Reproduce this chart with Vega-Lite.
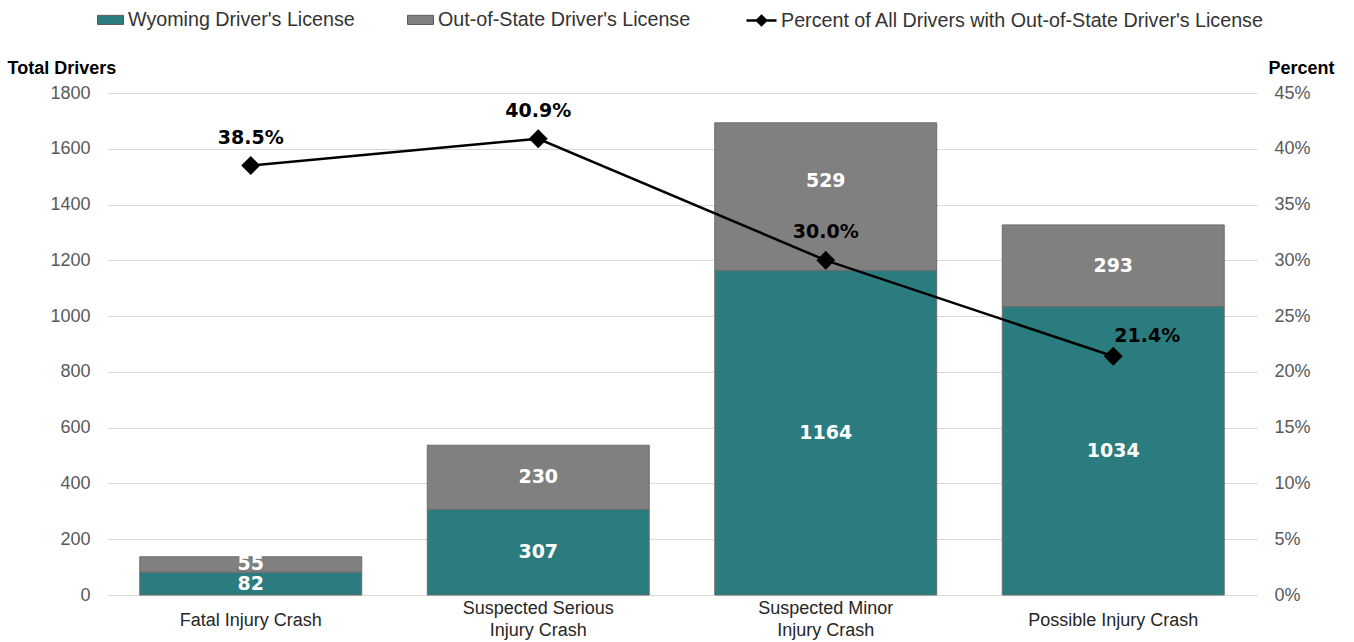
{
  "$schema": "https://vega.github.io/schema/vega-lite/v6.json",
  "width": 1150,
  "height": 502,
  "autosize": {"type": "none"},
  "padding": {"left": 107, "top": 93, "right": 97, "bottom": 47},
  "background": "white",
  "config": {
    "view": {"stroke": null},
    "font": "Liberation Sans"
  },
  "datasets": {
    "bars": [
      {"cat": "Fatal Injury Crash", "type": "Wyoming Driver's License", "value": 82},
      {"cat": "Fatal Injury Crash", "type": "Out-of-State Driver's License", "value": 55},
      {"cat": "Suspected Serious Injury Crash", "type": "Wyoming Driver's License", "value": 307},
      {"cat": "Suspected Serious Injury Crash", "type": "Out-of-State Driver's License", "value": 230},
      {"cat": "Suspected Minor Injury Crash", "type": "Wyoming Driver's License", "value": 1164},
      {"cat": "Suspected Minor Injury Crash", "type": "Out-of-State Driver's License", "value": 529},
      {"cat": "Possible Injury Crash", "type": "Wyoming Driver's License", "value": 1034},
      {"cat": "Possible Injury Crash", "type": "Out-of-State Driver's License", "value": 293}
    ],
    "pct": [
      {"cat": "Fatal Injury Crash", "pct": 0.385},
      {"cat": "Suspected Serious Injury Crash", "pct": 0.409},
      {"cat": "Suspected Minor Injury Crash", "pct": 0.300},
      {"cat": "Possible Injury Crash", "pct": 0.214}
    ]
  },
  "encoding": {
    "x": {
      "field": "cat",
      "type": "nominal",
      "sort": null,
      "scale": {"paddingInner": 0.228, "paddingOuter": 0.114},
      "axis": {
        "title": null,
        "labelAngle": 0,
        "domain": false,
        "ticks": false,
        "tickSize": 0,
        "labelPadding": {"condition": {"test": "indexof(datum.value, 'Suspected') == 0", "value": 13}, "value": 25},
        "labelBaseline": "middle",
        "labelFont": "Liberation Sans",
        "labelFontSize": 18,
        "labelColor": "#262626",
        "labelLineHeight": 22,
        "labelExpr": "indexof(datum.label, 'Suspected') == 0 ? [replace(datum.label, ' Injury Crash', ''), 'Injury Crash'] : datum.label"
      }
    }
  },
  "layer": [
    {
      "data": {"name": "bars"},
      "transform": [
        {"stack": "value", "groupby": ["cat"], "sort": [{"field": "type", "order": "descending"}], "as": ["y0", "y1"]}
      ],
      "encoding": {
        "y": {
          "field": "y0",
          "type": "quantitative",
          "scale": {"domain": [0, 1800], "nice": false},
          "axis": {
            "values": [0, 200, 400, 600, 800, 1000, 1200, 1400, 1600, 1800],
            "format": "d",
            "title": "Total Drivers",
            "titleAngle": 0,
            "titleAlign": "left",
            "titleBaseline": "alphabetic",
            "titleX": -100,
            "titleY": -20,
            "titleFont": "Liberation Sans",
            "titleFontSize": 18,
            "titleFontWeight": "bold",
            "titleColor": "#000000",
            "domain": false,
            "ticks": false,
            "labelPadding": 17,
            "labelFont": "Liberation Sans",
            "labelFontSize": 18,
            "labelColor": "#595959",
            "gridColor": "#d9d9d9",
            "gridWidth": 1
          }
        }
      },
      "layer": [
        {
          "mark": {"type": "bar", "stroke": "#6b6b6b", "strokeWidth": 1},
          "encoding": {
            "y2": {"field": "y1"},
            "fill": {
              "field": "type",
              "type": "nominal",
              "scale": {
                "domain": ["Wyoming Driver's License", "Out-of-State Driver's License"],
                "range": ["#2a7c7e", "#808080"]
              },
              "legend": {
                "title": null,
                "orient": "none",
                "direction": "horizontal",
                "legendX": -10,
                "legendY": -87,
                "columnPadding": 50,
                "labelFont": "Liberation Sans",
                "labelFontSize": 19.7,
                "labelColor": "#333333",
                "labelOffset": 4,
                "symbolType": "M-1,-0.35L1,-0.35L1,0.35L-1,0.35Z",
                "symbolSize": 676,
                "symbolStrokeColor": "#595959",
                "symbolStrokeWidth": 1,
                "symbolOpacity": 1,
                "labelLimit": 600
              }
            }
          }
        },
        {
          "mark": {"type": "text", "color": "white", "font": "DejaVu Sans", "fontWeight": "bold", "fontSize": 19, "baseline": "middle", "dy": {"expr": "-datum.value * 251 / 1800 - (datum.cat == 'Suspected Minor Injury Crash' && datum.type == 'Out-of-State Driver\\'s License' ? 16 : 0)"}},
          "encoding": {
            "text": {"field": "value", "type": "quantitative"}
          }
        }
      ]
    },
    {
      "data": {"name": "pct"},
      "encoding": {
        "y": {
          "field": "pct",
          "type": "quantitative",
          "scale": {"domain": [0, 0.45], "nice": false},
          "axis": {
            "orient": "right",
            "values": [0, 0.05, 0.1, 0.15, 0.2, 0.25, 0.3, 0.35, 0.4, 0.45],
            "format": ".0%",
            "grid": false,
            "domain": false,
            "ticks": false,
            "labelPadding": 17,
            "labelFont": "Liberation Sans",
            "labelFontSize": 18,
            "labelColor": "#595959",
            "title": "Percent",
            "titleAngle": 0,
            "titleAlign": "left",
            "titleBaseline": "alphabetic",
            "titleX": 11,
            "titleY": -20,
            "titleFont": "Liberation Sans",
            "titleFontSize": 18,
            "titleFontWeight": "bold",
            "titleColor": "#000000"
          }
        }
      },
      "layer": [
        {
          "mark": {"type": "line", "strokeWidth": 2.5, "point": {"shape": "diamond", "filled": true, "size": 260, "fill": "#000000"}},
          "encoding": {
            "stroke": {
              "datum": "Percent of All Drivers with Out-of-State Driver's License",
              "scale": {"range": ["#000000"]},
              "legend": {
                "title": null,
                "orient": "none",
                "legendX": 638,
                "legendY": -89,
                "labelFont": "Liberation Sans",
                "labelFontSize": 19.7,
                "labelColor": "#333333",
                "labelOffset": 3,
                "symbolType": "M-1,0L1,0M0,-0.3L0.3,0L0,0.3L-0.3,0Z",
                "symbolSize": 900,
                "symbolStrokeWidth": 2.5,
                "symbolFillColor": "#000000",
                "symbolOpacity": 1,
                "labelLimit": 700
              }
            }
          }
        },
        {
          "transform": [{"filter": "datum.cat != 'Possible Injury Crash'"}],
          "mark": {"type": "text", "color": "black", "font": "DejaVu Sans", "fontWeight": "bold", "fontSize": 19, "baseline": "middle", "dy": -28},
          "encoding": {
            "text": {"field": "pct", "type": "quantitative", "format": ".1%"}
          }
        },
        {
          "transform": [{"filter": "datum.cat == 'Possible Injury Crash'"}],
          "mark": {"type": "text", "color": "black", "font": "DejaVu Sans", "fontWeight": "bold", "fontSize": 19, "baseline": "middle", "dy": -20, "dx": 34},
          "encoding": {
            "text": {"field": "pct", "type": "quantitative", "format": ".1%"}
          }
        }
      ]
    }
  ],
  "resolve": {"scale": {"y": "independent"}}
}
